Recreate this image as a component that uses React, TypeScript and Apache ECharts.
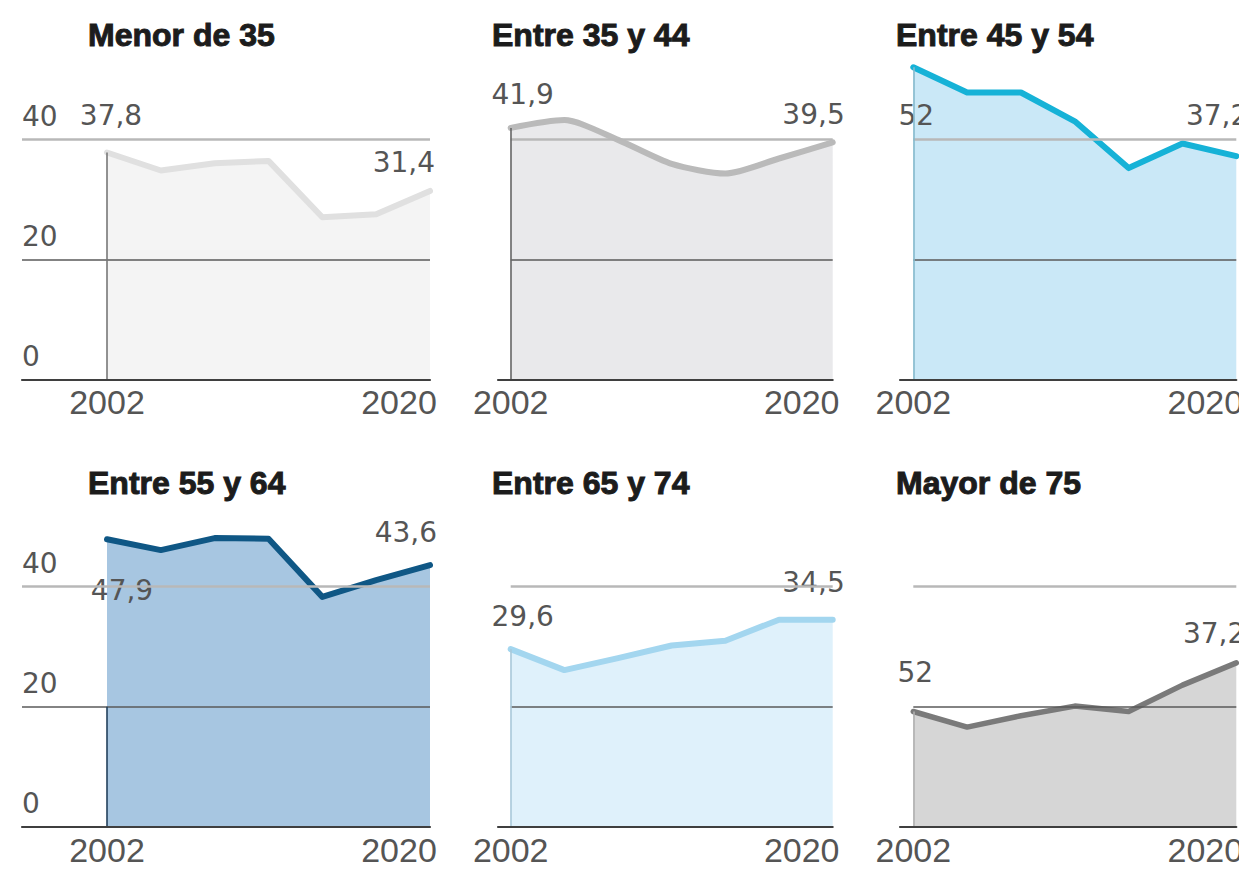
import React, { useEffect, useRef } from 'react';
import * as echarts from 'echarts';

// Survey years
const years = [2002, 2005, 2008, 2011, 2014, 2017, 2020];

// Series values (one per panel)
const menorDe35 = [37.8, 34.8, 36.0, 36.4, 27.0, 27.5, 31.4];
const entre35y44 = [41.9, 43.2, 39.9, 35.9, 34.3, 36.8, 39.5];
const entre45y54 = [52.0, 47.8, 47.8, 43.0, 35.2, 39.3, 37.2];
const entre55y64 = [47.9, 46.1, 48.1, 48.0, 38.3, 41.1, 43.6];
const entre65y74 = [29.6, 26.1, 28.1, 30.2, 31.0, 34.5, 34.5];
const mayorDe75 = [19.2, 16.6, 18.5, 20.1, 19.2, 23.6, 27.3];

const titles = ['Menor de 35', 'Entre 35 y 44', 'Entre 45 y 54', 'Entre 55 y 64', 'Entre 65 y 74', 'Mayor de 75'];
const startLabels = ['37,8', '41,9', '52', '47,9', '29,6', '52'];
const endLabels = ['31,4', '39,5', '37,2', '43,6', '34,5', '37,2'];
const yTickValues = [0, 20, 40];
const xTickValues = [2002, 2020];

const panels = [menorDe35, entre35y44, entre45y54, entre55y64, entre65y74, mayorDe75];

// Styles
const lineColors = ['#e0e0e0', '#bababa', '#16b2d7', '#0f5785', '#a3d6ef', '#7a7a7a'];
const fillColors = ['#f3f3f3', '#e7e7e9', '#c5e6f6', '#a0c1de', '#dcf0fb', '#d3d3d3'];
const edgeColors = ['#777777', '#666666', '#86b9cc', '#22405c', '#a9c9da', '#b0b0b0'];
const lineWidths = [6, 6, 6, 6, 6, 5.5];
const smoothing = [0, 0.25, 0, 0, 0, 0];
const startOffsets = [[4, -37], [12, -33], [3, 48], [15, 51], [12, -33], [2, -39]];
const endOffsets = [[5, -28], [12, -28], [12, -41], [7, -33], [12, -37], [9, -29]];

const colLeft = [22, 498, 900];
const col2002 = [107, 510.7, 913.3];
const col2020 = [430, 832.7, 1236.3];
const rowBottom = [379.3, 826.7];
const titleLeft = [88, 492, 896];
const titleTop = [19, 467];
const yMax = 56;
const pxPerUnit = 6;

const labelFont = 'DejaVu Sans';
const axisFont = 'Liberation Sans';

export default function App() {
  const ref = useRef<HTMLDivElement>(null);

  useEffect(() => {
    const chart = echarts.init(ref.current as HTMLDivElement, null, { renderer: 'svg' });

    const grids: any[] = [];
    const xAxes: any[] = [];
    const yAxes: any[] = [];
    const series: any[] = [];
    const titleOpts: any[] = [];

    panels.forEach((vals, i) => {
      const col = i % 3;
      const row = Math.floor(i / 3);
      const pxPerYear = (col2020[col] - col2002[col]) / (2020 - 2002);
      const xMin = 2002 - (col2002[col] - colLeft[col]) / pxPerYear;
      const height = yMax * pxPerUnit;

      grids.push({
        left: colLeft[col],
        top: rowBottom[row] - height,
        width: col2020[col] - colLeft[col],
        height,
        containLabel: false,
        outerBoundsMode: 'none',
      });

      xAxes.push({
        type: 'value',
        gridIndex: i,
        min: xMin,
        max: 2020,
        z: 5,
        splitLine: { show: false },
        axisTick: { show: false },
        axisLine: { show: true, lineStyle: { color: '#3f3f3f', width: 2.2 } },
        axisLabel: {
          customValues: xTickValues,
          margin: 6,
          color: '#555555',
          fontFamily: axisFont,
          fontSize: 34,
          formatter: (v: number) => (v === 2020 ? '{r|' + v + '}' : '{l|' + v + '}'),
          rich: {
            l: { fontFamily: axisFont, fontSize: 34, color: '#555555' },
            r: { fontFamily: axisFont, fontSize: 34, color: '#555555', padding: [0, 62, 0, 0] },
          },
        },
      });

      yAxes.push({
        type: 'value',
        gridIndex: i,
        min: 0,
        max: yMax,
        splitLine: { show: false },
        axisTick: { show: false },
        axisLine: { show: false },
        axisLabel: {
          show: col === 0,
          customValues: yTickValues,
          inside: true,
          margin: 0,
          verticalAlign: 'bottom',
          padding: [0, 0, 9, 0],
          color: '#555555',
          fontFamily: labelFont,
          fontSize: 28,
        },
      });

      titleOpts.push({
        text: titles[i],
        left: titleLeft[col],
        top: titleTop[row],
        padding: 0,
        textStyle: {
          fontFamily: axisFont,
          fontWeight: 'bold',
          fontSize: 32,
          color: '#1c1c1c',
          textBorderColor: '#1c1c1c',
          textBorderWidth: 1,
        },
      });

      const data = vals.map((v, k) => [years[k], v]);
      const gridStart = col === 0 ? xMin : 2002;

      // 40 gridline (beneath the fill)
      series.push({
        type: 'line',
        xAxisIndex: i,
        yAxisIndex: i,
        data: [],
        z: 1,
        silent: true,
        markLine: {
          silent: true,
          symbol: 'none',
          label: { show: false },
          lineStyle: { color: '#b8b8b8', width: 2.5, type: 'solid' },
          data: [[{ coord: [gridStart, 40] }, { coord: [2020, 40] }]],
        },
      });

      // area fill
      series.push({
        type: 'line',
        xAxisIndex: i,
        yAxisIndex: i,
        data,
        z: 2,
        smooth: smoothing[i],
        symbol: 'none',
        silent: true,
        lineStyle: { width: 0, opacity: 0 },
        areaStyle: { color: fillColors[i], opacity: 0.92 },
      });

      // 20 gridline and 2002 edge (over the fill)
      series.push({
        type: 'line',
        xAxisIndex: i,
        yAxisIndex: i,
        data: [],
        z: 3,
        silent: true,
        markLine: {
          silent: true,
          symbol: 'none',
          label: { show: false },
          data: [
            [
              { coord: [gridStart, 20], lineStyle: { color: '#5a5a5a', width: 1.6, type: 'solid' } },
              { coord: [2020, 20] },
            ],
            [
              { coord: [2002, 0], lineStyle: { color: edgeColors[i], width: 1.6, type: 'solid' } },
              { coord: [2002, i === 3 ? 20 : vals[0]] },
            ],
          ],
        },
      });

      // data line with end labels
      const lineData = data.map((d, k) => {
        if (k === 0) {
          return {
            value: d,
            label: {
              show: true,
              formatter: startLabels[i],
              position: 'inside',
              align: 'center',
              verticalAlign: 'middle',
              offset: startOffsets[i],
              color: '#555555',
              fontFamily: labelFont,
              fontSize: 28,
            },
          };
        }
        if (k === data.length - 1) {
          return {
            value: d,
            label: {
              show: true,
              formatter: endLabels[i],
              position: 'inside',
              align: 'right',
              verticalAlign: 'middle',
              offset: endOffsets[i],
              color: '#555555',
              fontFamily: labelFont,
              fontSize: 28,
            },
          };
        }
        return { value: d };
      });

      series.push({
        type: 'line',
        xAxisIndex: i,
        yAxisIndex: i,
        data: lineData,
        z: 4,
        smooth: smoothing[i],
        symbol: 'circle',
        symbolSize: 1,
        showSymbol: true,
        itemStyle: { color: lineColors[i] },
        lineStyle: { color: lineColors[i], width: lineWidths[i], join: 'round', cap: 'round' },
        silent: true,
      });
    });

    chart.setOption({
      animation: false,
      backgroundColor: '#ffffff',
      title: titleOpts,
      grid: grids,
      xAxis: xAxes,
      yAxis: yAxes,
      series,
    });

    return () => chart.dispose();
  }, []);

  return (
    <div
      ref={ref}
      style={{ position: 'fixed', left: 0, top: 0, width: 1239, height: 878, background: '#ffffff' }}
    />
  );
}
